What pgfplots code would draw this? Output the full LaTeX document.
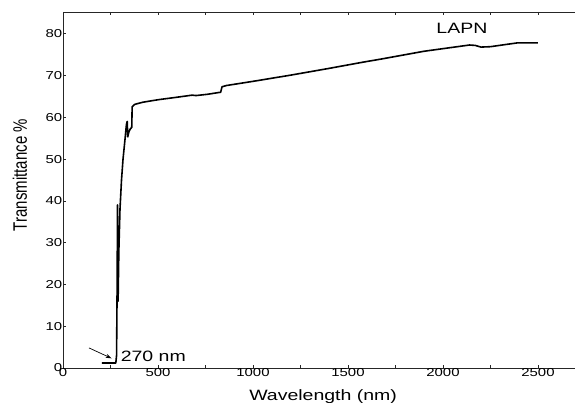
\documentclass[border=0pt]{standalone}
\usepackage{pgfplots}
\pgfplotsset{compat=1.18}
\usepackage{fontspec}
\setmainfont{Liberation Sans}
\usetikzlibrary{arrows.meta}
\pgfplotstableread{
x y
205 1.2
278 1.2
282 3
285 20
287 39
290 16
294 28
300 38
308 45
316 50
327 55
334 58.3
338 59
341 55.3
346 56.4
354 57.2
362 57.6
364 62.5
378 63.1
420 63.6
500 64.2
600 64.8
680 65.3
700 65.2
760 65.5
830 66.0
837 67.3
860 67.6
1000 68.6
1200 70.1
1400 71.7
1580 73.2
1670 73.9
1900 75.8
2140 77.3
2170 77.2
2200 76.8
2250 76.9
2390 77.8
2500 77.8
}\spectrum
\begin{document}
\begin{tikzpicture}[x=1pt,y=1pt]
\begin{axis}[
  scale only axis,
  width=532pt, height=356pt,
  xmin=0, xmax=2800, ymin=0, ymax=85.2,
  xtick={0,500,...,2500}, minor xtick={250,750,...,2750},
  ytick={0,10,...,80},
  xtick pos=both, ytick pos=left,
  tick align=inside,
  major tick length=3pt, minor tick length=3pt,
  axis line style={line width=0.9pt, black!85},
  every tick/.style={black!85, line width=0.6pt},
  /pgf/number format/assume math mode=true,
  /pgf/number format/1000 sep={},
  xticklabel={\scalebox{1.3}[1]{\fontsize{11.5}{13}\selectfont\pgfmathprintnumber{\tick}}},
  yticklabel={\scalebox{1.3}[1]{\fontsize{11.5}{13}\selectfont\pgfmathprintnumber{\tick}}},
  xticklabel style={inner sep=1pt, yshift=1pt},
  yticklabel style={inner sep=0.5pt},
  xlabel={\scalebox{1.3}[1]{\fontsize{15}{18}\selectfont Wavelength (nm)}},
  ylabel={\scalebox{1}[1.3]{\fontsize{15}{18}\selectfont Transmittance \%}},
  xlabel style={at={(axis description cs:0.489,-0.0815)}, anchor=center},
  ylabel style={at={(axis description cs:-0.081,0.542)}, anchor=center},
  clip=false,
]
\addplot[black, line width=1.6pt, line join=round] table[x=x,y=y] {\spectrum};
\draw[-{Stealth[length=6pt,width=4pt]}, line width=0.7pt] (axis cs:137,4.8) -- (axis cs:256,2.3);
\node[anchor=west, inner sep=0pt] at (axis cs:303,2.7) {\scalebox{1.3}[1]{\fontsize{15}{18}\selectfont 270 nm}};
\node[anchor=center, inner sep=0pt] at (axis cs:2100,81.3) {\scalebox{1.3}[1]{\fontsize{15}{18}\selectfont LAPN}};
\coordinate (A) at (axis cs:0,0);
\coordinate (B) at (axis cs:2695,85.2);
\end{axis}
\pgfresetboundingbox
\useasboundingbox ([shift={(-63pt,-35pt)}]A) rectangle ([shift={(0pt,12pt)}]B);
\end{tikzpicture}
\end{document}
